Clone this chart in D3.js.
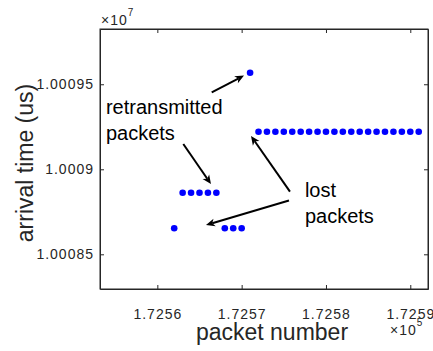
<!DOCTYPE html>
<meta charset="utf-8">
<script src="https://d3js.org/d3.v7.min.js"></script>
<style>
  body { margin: 0; background: #fff; }
  text { font-family: 'Liberation Sans', Arial, sans-serif; }
</style>
<body>
<div id="my_dataviz"></div>
<script>

// packet numbers and their arrival times (us)
var packets = [172562,
  172563, 172564, 172565, 172566, 172567,
  172568, 172569, 172570,
  172571,
  172572, 172573, 172574, 172575, 172576, 172577, 172578, 172579, 172580, 172581,
  172582, 172583, 172584, 172585, 172586, 172587, 172588, 172589, 172590, 172591];
var arrival = [10008653,
  10008862, 10008862, 10008862, 10008862, 10008862,
  10008653, 10008653, 10008653,
  10009568,
  10009221, 10009221, 10009221, 10009221, 10009221, 10009221, 10009221, 10009221, 10009221, 10009221,
  10009221, 10009221, 10009221, 10009221, 10009221, 10009221, 10009221, 10009221, 10009221, 10009221];

var xTicks = [172560, 172570, 172580, 172590];
var yTicks = [10008500, 10009000, 10009500];

// annotation arrows, in data units: [x1, y1, x2, y2] (tail -> head)
var arrows = [
  [172566.45, 10009452, 172570.28, 10009551],
  [172563.08, 10009149, 172566.36, 10008913],
  [172575.73, 10008869, 172571.11, 10009196],
  [172575.61, 10008816, 172565.77, 10008672]
];
var notes = [
  {x: 172553.9, y: 10009325, lines: ["retransmitted", "packets"]},
  {x: 172577.5, y: 10008837, lines: ["lost", "packets"]}
];

var W = 433, H = 351;
var margin = {top: 29, right: 5, bottom: 62, left: 100};
var width = W - margin.left - margin.right,
    height = H - margin.top - margin.bottom;

var svg = d3.select("#my_dataviz")
  .append("svg")
    .attr("width", W)
    .attr("height", H)
  .append("g")
    .attr("transform", "translate(" + margin.left + "," + margin.top + ")");

var x = d3.scaleLinear()
  .domain([172553.2, 172592.1])
  .range([0, width]);
var y = d3.scaleLinear()
  .domain([10008296, 10009825])
  .range([height, 0]);

var axisColor = "#262626";

// bottom axis
svg.append("g")
  .attr("transform", "translate(0," + height + ")")
  .call(d3.axisBottom(x).tickValues(xTicks).tickSizeInner(-4).tickSizeOuter(0).tickPadding(20)
    .tickFormat(function(d) { return String(+(d / 1e5).toFixed(4)); }));
// top mirror
svg.append("g")
  .call(d3.axisTop(x).tickValues(xTicks).tickSizeInner(-4).tickSizeOuter(0).tickFormat(""));
// left axis
svg.append("g")
  .call(d3.axisLeft(y).tickValues(yTicks).tickSizeInner(-4).tickSizeOuter(0).tickPadding(6)
    .tickFormat(function(d) { return String(+(d / 1e7).toFixed(5)); }));
// right mirror
svg.append("g")
  .attr("transform", "translate(" + width + ",0)")
  .call(d3.axisRight(y).tickValues(yTicks).tickSizeInner(-4).tickSizeOuter(0).tickFormat(""));

svg.selectAll(".domain").attr("stroke", axisColor);
svg.selectAll(".tick line").attr("stroke", axisColor);
svg.selectAll(".tick text")
  .attr("fill", axisColor)
  .style("font-size", "14px")
  .style("letter-spacing", "1px");

// exponent labels
function exponent(px, py, p) {
  var t = svg.append("text").attr("x", px).attr("y", py).attr("fill", axisColor)
    .style("font-size", "14px");
  t.append("tspan").text("×").style("font-size", "14px");
  t.append("tspan").attr("dx", 1).text("10").style("letter-spacing", "1px");
  t.append("tspan").attr("dy", -9).style("font-size", "10px").text(p);
}
exponent(1, -4, "7");
exponent(290, height + 46, "5");

// axis labels
svg.append("text")
  .attr("text-anchor", "middle")
  .attr("x", 172)
  .attr("y", height + 51)
  .attr("fill", axisColor)
  .style("font-size", "23px")
  .text("packet number");
svg.append("text")
  .attr("text-anchor", "middle")
  .attr("transform", "translate(-67," + 134 + ") rotate(-90)")
  .attr("fill", axisColor)
  .style("font-size", "23px")
  .text("arrival time (us)");

// box
svg.append("rect")
  .attr("width", width).attr("height", height)
  .attr("fill", "none").attr("stroke", axisColor);

// points
svg.append("g")
  .selectAll("circle")
  .data(packets)
  .enter()
  .append("circle")
    .attr("cx", function(d) { return x(d); })
    .attr("cy", function(d, i) { return y(arrival[i]); })
    .attr("r", 3.3)
    .attr("fill", "#0000ff");

// arrows
arrows.forEach(function(a) {
  var x1 = x(a[0]), y1 = y(a[1]), x2 = x(a[2]), y2 = y(a[3]);
  var ang = Math.atan2(y2 - y1, x2 - x1);
  var L = 9, Wd = 4, back = 6.5;
  var c = Math.cos(ang), s = Math.sin(ang);
  var bx = x2 - back * c, by = y2 - back * s;
  svg.append("line")
    .attr("x1", x1).attr("y1", y1).attr("x2", bx).attr("y2", by)
    .attr("stroke", "#000").attr("stroke-width", 2);
  var p1 = [x2 - L * c - Wd * s, y2 - L * s + Wd * c];
  var p2 = [x2 - L * c + Wd * s, y2 - L * s - Wd * c];
  svg.append("path")
    .attr("d", "M" + x2 + "," + y2 + "L" + p1 + "L" + bx + "," + by + "L" + p2 + "Z")
    .attr("fill", "#000");
});

// notes
notes.forEach(function(n) {
  var t = svg.append("text")
    .attr("x", x(n.x)).attr("y", y(n.y))
    .attr("fill", "#000")
    .style("font-size", "20px");
  n.lines.forEach(function(l, i) {
    t.append("tspan").attr("x", x(n.x)).attr("dy", i === 0 ? 0 : 26).text(l);
  });
});

</script>
</body>
